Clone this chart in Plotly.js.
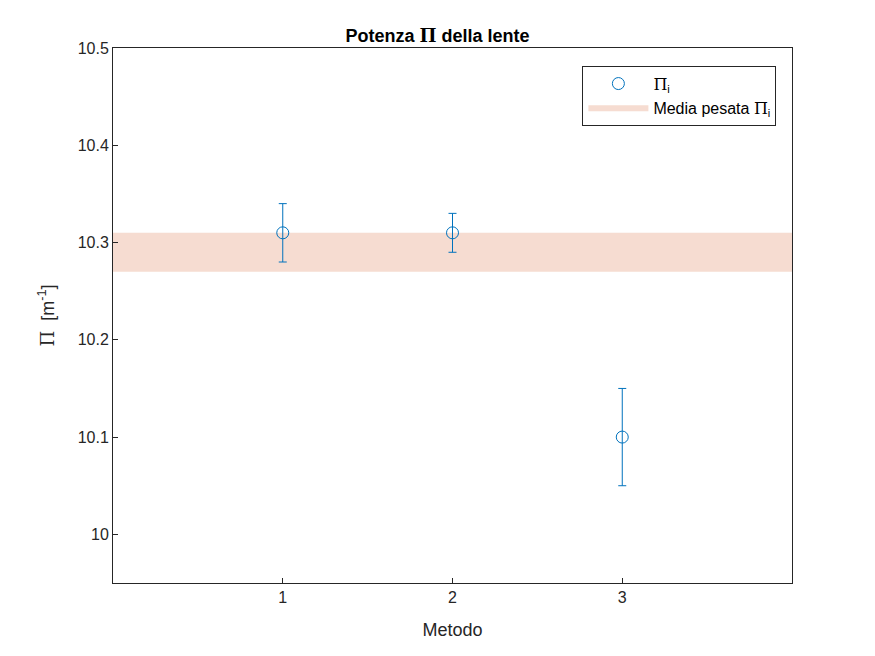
<!DOCTYPE html>
<html>
<head>
<meta charset="utf-8">
<script src="https://cdn.plot.ly/plotly-3.0.1.min.js"></script>
<style>body{margin:0}</style>
</head>
<body>
<div id="plot" style="width:875px;height:656px"></div>
<script>
// data
const metodi = [1, 2, 3];
const potenze = [10.31, 10.31, 10.10];
const errori = [0.03, 0.02, 0.05];
const mediaLo = 10.27;
const mediaHi = 10.31;
const xLimiti = [0, 4];

const blu = '#0072BD';
const PI = '<span style="font-family:DejaVu Serif, serif">Π</span>';

const banda = {
    x: [xLimiti[0], xLimiti[1], xLimiti[1], xLimiti[0], xLimiti[0]],
    y: [mediaLo, mediaLo, mediaHi, mediaHi, mediaLo],
    type: 'scatter',
    mode: 'lines',
    fill: 'toself',
    fillcolor: 'rgba(236,178,152,0.45)',
    line: {width: 0},
    name: 'Media pesata ' + PI + '<sub>i</sub>',
    hoverinfo: 'skip'
};

const punti = {
    x: metodi,
    y: potenze,
    error_y: {type: 'data', array: errori, color: blu, thickness: 1, width: 4},
    type: 'scatter',
    mode: 'markers',
    marker: {symbol: 'circle-open', size: 12, color: blu, line: {width: 1}},
    name: PI + '<sub>i</sub>'
};

const axisCommon = {
    showline: true, mirror: true, linecolor: '#262626', linewidth: 1,
    ticks: 'inside', ticklen: 5, tickcolor: '#262626',
    showgrid: false, zeroline: false,
    tickfont: {size: 16, color: '#262626'}
};

const layout = {
    font: {family: 'Arial, Liberation Sans, sans-serif', color: '#262626', size: 16},
    paper_bgcolor: 'white', plot_bgcolor: 'white',
    margin: {l: 113, r: 83, t: 48, b: 73},
    title: {text: '<b>Potenza ' + PI + ' della lente</b>', font: {size: 18, color: '#000'}, x: 0.5, xanchor: 'center', y: 0.955},
    xaxis: Object.assign({}, axisCommon, {
        range: xLimiti, tickvals: metodi,
        title: {text: 'Metodo', font: {size: 18}, standoff: 18}
    }),
    yaxis: Object.assign({}, axisCommon, {
        range: [9.95, 10.5], tickvals: [10, 10.1, 10.2, 10.3, 10.4, 10.5],
        ticktext: ['10', '10.1', '10.2', '10.3', '10.4', '10.5'],
        title: {text: PI + '  [m<sup>-1</sup>]', font: {size: 18}, standoff: 18}
    }),
    legend: {
        x: 0.977, xanchor: 'right', y: 0.967, yanchor: 'top',
        bordercolor: '#262626', borderwidth: 1, bgcolor: 'white',
        font: {size: 16, color: '#000'}, traceorder: 'reversed',
        itemwidth: 60
    },
    showlegend: true
};

Plotly.newPlot('plot', [banda, punti], layout, {displayModeBar: false});
</script>
</body>
</html>
